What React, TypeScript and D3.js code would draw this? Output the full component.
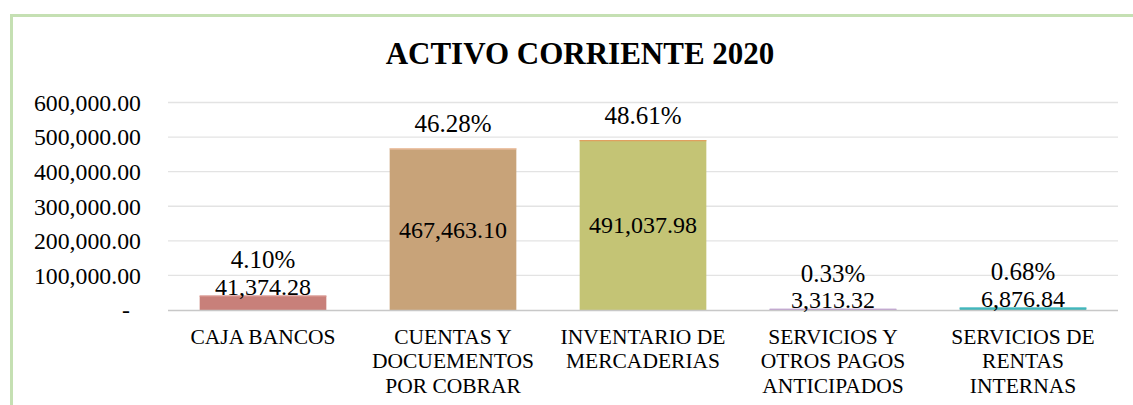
import React, { useEffect, useRef } from 'react';
import * as d3 from 'd3';

const title = 'ACTIVO CORRIENTE 2020';
const categories = [
  ['CAJA BANCOS'],
  ['CUENTAS Y', 'DOCUEMENTOS', 'POR COBRAR'],
  ['INVENTARIO DE', 'MERCADERIAS'],
  ['SERVICIOS Y', 'OTROS PAGOS', 'ANTICIPADOS'],
  ['SERVICIOS DE', 'RENTAS', 'INTERNAS'],
];
const values = [41374.28, 467463.1, 491037.98, 3313.32, 6876.84];
const percents = ['4.10%', '46.28%', '48.61%', '0.33%', '0.68%'];
const barColors = ['#c8807a', '#c8a379', '#c4c475', '#ad92c4', '#45b3b3'];
const topColors = ['#d9968f', '#f2c4a8', '#e0a060', '#c0a0d0', '#40b8c0'];
const yTicks = [0, 100000, 200000, 300000, 400000, 500000, 600000];

const W = 1133;
const H = 405;

const App = () => {
  const ref = useRef<SVGSVGElement>(null);

  useEffect(() => {
    const svg = d3.select(ref.current);
    svg.selectAll('*').remove();

    const font = '"Liberation Serif", "Times New Roman", serif';
    const left = 168, right = 1118, top = 102.5, bottom = 310;

    // outer chart border (green)
    svg.append('rect')
      .attr('x', 11.5).attr('y', 15.5)
      .attr('width', W + 20).attr('height', H + 20)
      .attr('fill', '#fff')
      .attr('stroke', '#c5e0b3')
      .attr('stroke-width', 3);

    svg.append('text')
      .attr('x', 580).attr('y', 64)
      .attr('text-anchor', 'middle')
      .attr('font-family', font)
      .attr('font-weight', 'bold')
      .attr('font-size', 31)
      .text(title);

    const x = d3.scaleBand<number>()
      .domain(d3.range(values.length))
      .range([left, right])
      .paddingInner(1 / 3)
      .paddingOuter(1 / 6);

    const y = d3.scaleLinear().domain([0, 600000]).range([bottom, top]);

    // gridlines
    svg.append('g').selectAll('line')
      .data(yTicks.filter(t => t > 0))
      .enter().append('line')
      .attr('x1', left).attr('x2', right)
      .attr('y1', d => y(d)).attr('y2', d => y(d))
      .attr('stroke', '#e3e3e3')
      .attr('stroke-width', 1.3);

    // y tick labels
    const fmt = d3.format(',.2f');
    svg.append('g').selectAll('text')
      .data(yTicks)
      .enter().append('text')
      .attr('x', d => (d === 0 ? 130 : 141))
      .attr('y', d => y(d))
      .attr('dy', '0.35em')
      .attr('text-anchor', 'end')
      .attr('font-family', font)
      .attr('font-size', 23.8)
      .text(d => (d === 0 ? '-' : fmt(d)));

    // bars
    svg.append('g').selectAll('rect')
      .data(values)
      .enter().append('rect')
      .attr('x', (_, i) => x(i)!)
      .attr('y', d => y(d))
      .attr('width', x.bandwidth())
      .attr('height', d => bottom - y(d))
      .attr('fill', (_, i) => barColors[i]);

    svg.append('g').selectAll('line')
      .data(values)
      .enter().append('line')
      .attr('x1', (_, i) => x(i)!)
      .attr('x2', (_, i) => x(i)! + x.bandwidth())
      .attr('y1', d => y(d) + 0.5)
      .attr('y2', d => y(d) + 0.5)
      .attr('stroke', (_, i) => topColors[i])
      .attr('stroke-width', 1.2);

    // x axis line
    svg.append('line')
      .attr('x1', left).attr('x2', right)
      .attr('y1', bottom + 0.5).attr('y2', bottom + 0.5)
      .attr('stroke', '#c8c8c8')
      .attr('stroke-width', 1.5);

    // value + percent labels
    const labels = svg.append('g')
      .attr('font-family', font)
      .attr('text-anchor', 'middle');
    values.forEach((v, i) => {
      const cx = x(i)! + x.bandwidth() / 2;
      const yt = y(v);
      const big = bottom - yt > 40;
      const vy = big ? (yt + bottom) / 2 : yt - 9;
      const py = big ? yt - 25 : vy - 27;
      labels.append('text')
        .attr('x', cx).attr('y', vy).attr('dy', '0.35em')
        .attr('font-size', 24)
        .text(fmt(v));
      labels.append('text')
        .attr('x', cx).attr('y', py).attr('dy', '0.35em')
        .attr('font-size', 25)
        .text(percents[i]);
    });

    // category labels
    const cats = svg.append('g')
      .attr('font-family', font)
      .attr('font-size', 21.5)
      .attr('text-anchor', 'middle');
    categories.forEach((lines, i) => {
      const cx = x(i)! + x.bandwidth() / 2;
      lines.forEach((ln, j) => {
        cats.append('text')
          .attr('x', cx)
          .attr('y', 336 + j * 24.5)
          .attr('dy', '0.35em')
          .text(ln);
      });
    });
  }, []);

  return (
    <svg
      ref={ref}
      width={W}
      height={H}
      style={{ position: 'absolute', left: 0, top: 0, background: '#fff' }}
    />
  );
};

export default App;
